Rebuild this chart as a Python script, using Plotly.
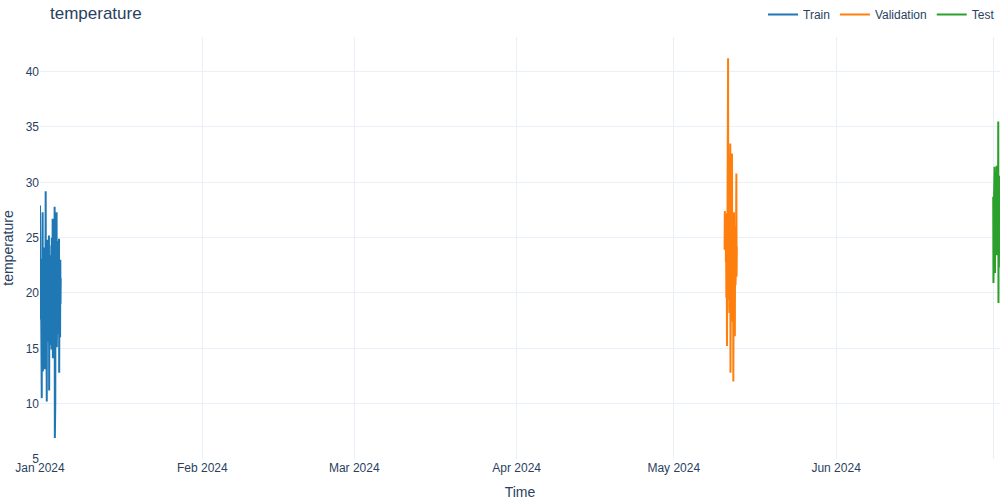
import plotly.graph_objects as go
import pandas as pd

# hourly temperature readings, one block per split
train_start = "2024-01-01 00:00"
train_temp = [
    27.9, 17.6, 21.4, 19.2, 23.1, 16.8, 20.5, 18.3, 10.5, 22.7, 17.9, 24.6,
    27.3, 12.9, 20.8, 18.1, 23.6, 15.4, 21.9, 19.7, 16.2, 24.1, 13.1, 22.4,
    18.5, 21.2, 29.2, 16.7, 23.5, 19.9, 14.8, 10.2, 22.9, 17.3, 24.8, 15.6,
    20.4, 23.7, 16.9, 21.6, 18.8, 25.2, 11.2, 22.1, 17.5, 20.9, 15.3, 23.4,
    19.1, 16.4, 22.8, 18.6, 24.3, 14.9, 25.0, 17.8, 21.3, 19.5, 26.7, 14.1,
    22.6, 18.2, 20.7, 16.1, 23.9, 19.4, 15.8, 27.8, 6.9, 21.5, 10.1, 24.4,
    17.2, 22.3, 19.8, 16.6, 27.3, 15.1, 21.8, 18.9, 23.2, 16.3, 20.1, 24.7,
    17.7, 21.1, 15.9, 24.9, 12.8, 22.5, 18.4, 20.6, 16.0, 23.0, 19.0, 21.3,
]

val_start = "2024-05-10 17:00"
val_temp = [
    23.9, 27.4, 24.6, 26.1, 25.3, 27.2, 22.8, 25.9, 19.6, 26.4, 21.3, 15.2,
    24.7, 20.5, 26.8, 22.1, 41.2, 19.4, 25.6, 21.8, 27.1, 23.3, 18.2, 26.2,
    20.9, 24.5, 33.5, 12.8, 25.1, 22.4, 27.0, 19.1, 24.0, 21.6, 32.6, 17.4,
    25.8, 20.2, 26.5, 22.9, 12.0, 24.3, 19.8, 27.3, 21.1, 25.4, 18.7, 16.1,
    23.6, 26.0, 20.7, 24.8, 22.2, 26.9, 30.8, 21.5, 24.2,
]

test_start = "2024-07-01 00:00"
test_temp = [
    28.7, 20.9, 26.3, 24.1, 29.0, 25.2, 31.4, 27.5,
    21.8, 28.4, 24.6, 30.1, 26.7, 23.9, 29.6, 25.8,
    31.5, 23.4, 28.2, 26.0, 30.3, 24.7, 27.9, 35.5,
    19.1, 29.8, 22.3, 27.6, 25.1, 30.6, 23.8, 28.0,
]

splits = [
    ("Train", train_start, train_temp, "#1f77b4"),
    ("Validation", val_start, val_temp, "#ff7f0e"),
    ("Test", test_start, test_temp, "#2ca02c"),
]

fig = go.Figure()
for name, start, temps, color in splits:
    times = pd.date_range(start, periods=len(temps), freq="h")
    fig.add_trace(go.Scatter(x=times, y=temps, mode="lines", name=name,
                             line=dict(color=color, width=2)))

fig.update_layout(
    template="plotly_white",
    width=1000, height=500,
    font=dict(family="Arial, Liberation Sans, sans-serif"),
    title=dict(text="temperature", x=0.05, y=0.974, yanchor="middle", font=dict(size=17)),
    margin=dict(l=40, r=0, t=37, b=41),
    # container coords keep the legend from pushing the top margin
    legend=dict(orientation="h", x=1, xanchor="right",
                yref="container", y=1, yanchor="top"),
    xaxis=dict(title="Time"),
    yaxis=dict(title="temperature", range=[5, 43.13], dtick=5),
)

# drop the page's default body margin so the 1000x500 figure sits at 0,0
fig.write_html("out.html", config={"displayModeBar": False},
               post_script="document.body.style.margin='0';")
